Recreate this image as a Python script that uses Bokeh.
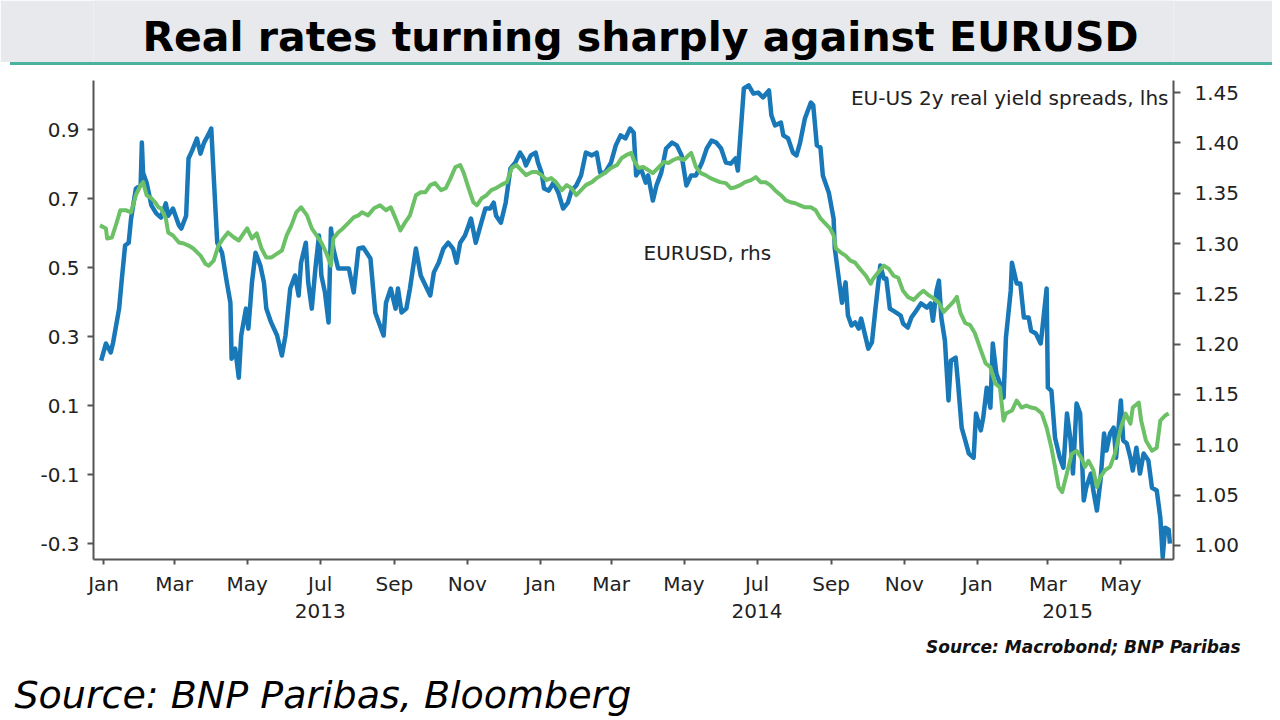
import numpy as np
import pandas as pd
from bokeh.plotting import figure
from bokeh.models import (Range1d, LinearAxis, DatetimeAxis, FixedTicker, PrintfTickFormatter,
                          DatetimeTickFormatter, ColumnDataSource, Label, Title, Div)
from bokeh.layouts import column
from bokeh.embed import file_html
from bokeh.resources import INLINE
from bokeh.core.properties import value

# ---------------- data ----------------
title_text = "Real rates turning sharply against EURUSD"
spread_label = "EU-US 2y real yield spreads, lhs"
eurusd_label = "EURUSD, rhs"
source_small = "Source: Macrobond; BNP Paribas"
source_big = "Source: BNP Paribas, Bloomberg"

start_date = "2013-01-01"   # day 0 of the day offsets below

# EU-US 2y real yield spread (lhs), days since 2013-01-01
spread_days = [
    -2, 2, 6, 8, 13, 15, 18, 21, 23, 27, 31, 32, 33, 36, 40, 44, 48, 52, 54, 58,
    63, 65, 69, 71, 74, 78, 81, 84, 88, 90, 92, 95, 99, 103, 106, 107, 110, 113, 115, 119,
    121, 124, 127, 131, 134, 136, 140, 145, 149, 152, 156, 160, 163, 165, 169, 171, 174, 177, 180, 182,
    185, 188, 190, 192, 196, 200, 205, 209, 213,
    217, 223, 227, 230, 234, 236, 240, 244, 246, 249, 253, 256, 261, 265, 269, 273, 276, 280, 284, 288,
    292, 295, 298, 302, 305, 307, 311, 315, 319, 323, 326, 328, 332, 336, 340, 344, 348, 351, 353, 357,
    361, 363, 366, 368, 372, 376, 380, 384, 388, 391, 395, 399, 403, 408, 412, 415, 419, 424, 428, 432,
    436, 440,
    443, 445, 449, 453, 455, 459, 462, 466, 470, 475, 479, 483, 487, 491, 495, 500, 504, 508, 512, 516,
    520, 524, 528, 530, 535, 539, 543, 547, 551, 556, 558, 561, 566, 568, 572, 576, 579, 582, 586, 591,
    593, 596, 599, 601, 606, 610, 611, 614, 617, 620, 622, 625, 628, 631, 633, 637, 639, 642, 645, 649,
    652, 654, 657, 662, 666,
    668, 672, 675, 679, 683, 688, 691, 693, 696, 698, 700, 703, 706, 708, 712, 714, 717, 720, 723, 727,
    729, 733, 735, 738, 741, 743, 746, 749, 752, 754, 758, 759, 763, 766, 769, 773, 775, 779, 783, 784,
    788, 789, 792, 795, 799, 802, 805, 808, 810, 813, 816, 819, 821, 825, 827, 830, 833, 836, 838, 841,
    844, 846, 850, 852, 855, 858, 860, 863, 866, 869, 873, 876, 880, 883, 885, 887, 890, 891,
]
spread_values = [
    0.23, 0.28, 0.254, 0.283, 0.381, 0.457, 0.564, 0.572, 0.642, 0.729, 0.738, 0.862, 0.775, 0.746, 0.68,
    0.657, 0.645, 0.686, 0.65, 0.671, 0.622, 0.613, 0.65, 0.816, 0.839, 0.874, 0.83, 0.862, 0.888, 0.903,
    0.767, 0.572, 0.543, 0.457, 0.398, 0.236, 0.265, 0.181, 0.303, 0.381, 0.323, 0.457, 0.543, 0.506, 0.457,
    0.381, 0.341, 0.303, 0.245, 0.303, 0.439, 0.477, 0.419, 0.514, 0.572, 0.457, 0.381, 0.497, 0.593, 0.477,
    0.428, 0.341, 0.613, 0.555, 0.497, 0.497, 0.497, 0.428, 0.555,
    0.558, 0.526, 0.370, 0.341, 0.303, 0.398, 0.439, 0.381, 0.439, 0.370, 0.381, 0.439, 0.555, 0.477, 0.448,
    0.419, 0.486, 0.514, 0.555, 0.572, 0.555, 0.514, 0.572, 0.593, 0.622, 0.642, 0.572, 0.622, 0.671, 0.671,
    0.688, 0.65, 0.63, 0.688, 0.787, 0.804, 0.833, 0.816, 0.796, 0.825, 0.833, 0.804, 0.775, 0.729, 0.723,
    0.746, 0.717, 0.671, 0.688, 0.723, 0.738, 0.767, 0.833, 0.825, 0.833, 0.775, 0.775, 0.804, 0.854, 0.883,
    0.874, 0.903,
    0.891, 0.767, 0.787, 0.746, 0.767, 0.694, 0.738, 0.775, 0.845, 0.862, 0.854, 0.825, 0.738, 0.767, 0.767,
    0.804, 0.845, 0.868, 0.862, 0.845, 0.804, 0.801, 0.816, 0.781, 1.019, 1.028, 1.004, 1.007, 0.993, 1.013,
    0.941, 0.912, 0.920, 0.883, 0.874, 0.833, 0.825, 0.862, 0.932, 0.978, 0.970, 0.854, 0.848, 0.767, 0.717,
    0.642, 0.555, 0.477, 0.398, 0.457, 0.361, 0.332, 0.341, 0.323, 0.352, 0.294, 0.265, 0.283, 0.381, 0.506,
    0.468, 0.468, 0.381, 0.370, 0.361,
    0.338, 0.326, 0.355, 0.375, 0.396, 0.384, 0.396, 0.346, 0.433, 0.462, 0.355, 0.288, 0.115, 0.230, 0.239,
    0.164, 0.036, -0.001, -0.039, -0.051, 0.077, 0.028, 0.065, 0.152, 0.094, 0.280, 0.193, 0.164, 0.123, 0.297,
    0.433, 0.514, 0.454, 0.454, 0.355, 0.355, 0.317, 0.309, 0.280, 0.309, 0.439, 0.152, 0.143, 0.007, -0.051,
    -0.080, 0.077, -0.001, -0.097, 0.106, 0.077, -0.175, -0.138, -0.097, -0.146, -0.204, -0.117, 0.019, -0.030, 0.019,
    0.036, -0.051, 0.115, -0.001, -0.010, -0.051, -0.088, -0.022, -0.097, -0.039, -0.059, -0.138, -0.146, -0.225, -0.34,
    -0.254, -0.26, -0.30,
]

# EURUSD (rhs), days since 2013-01-01
eurusd_days = [
    -3, 2, 3, 7, 11, 14, 19, 23, 27, 31, 33, 36, 40, 43, 46, 48, 52, 54, 58, 63,
    67, 71, 75, 81, 85, 88, 92, 96, 100, 104, 109, 113, 117, 120, 124, 128, 132, 136, 140, 145,
    149, 153, 157, 161, 165, 170, 174, 178, 182, 186, 190, 192, 196, 200, 205, 209, 213, 216,
    221, 226, 231, 236, 240, 244, 248, 252, 256, 261, 265, 269, 273, 277, 282, 286, 290, 294, 298, 301,
    305, 309, 312, 316, 320, 324, 328, 332, 337, 341, 345, 349, 353, 358, 362, 366, 370, 374, 378, 383,
    387, 391, 395, 399, 403, 408, 412, 416, 420, 424, 429, 433, 437, 441,
    443, 447, 451, 455, 459, 464, 468, 472, 476, 480, 485, 489, 491, 495, 499, 503, 507, 511, 515, 520,
    524, 528, 532, 536, 541, 545, 549, 553, 557, 561, 566, 570, 574, 578, 582, 586, 591, 595, 599, 603,
    607, 610, 612, 616, 620, 624, 628, 632, 637, 641, 643, 647, 652, 656, 660, 664,
    668, 672, 677, 681, 685, 689, 693, 698, 702, 706, 710, 713, 716, 720, 724, 728, 733, 737, 741, 745,
    749, 752, 754, 759, 763, 767, 771, 775, 779, 784, 788, 792, 795, 798, 801, 805, 809, 813, 817, 820,
    823, 827, 830, 833, 837, 841, 845, 850, 854, 858, 860, 865, 867, 871, 876, 880, 883, 887, 890,
]
eurusd_values = [
    1.318, 1.315, 1.305, 1.306, 1.321, 1.333, 1.333, 1.331, 1.348, 1.358, 1.361, 1.348, 1.345, 1.341, 1.336,
    1.335, 1.325, 1.311, 1.308, 1.301, 1.300, 1.298, 1.295, 1.288, 1.280, 1.278, 1.283, 1.298, 1.305, 1.311,
    1.306, 1.303, 1.310, 1.315, 1.305, 1.310, 1.295, 1.286, 1.286, 1.290, 1.293, 1.308, 1.318, 1.331, 1.336,
    1.328, 1.315, 1.308, 1.301, 1.291, 1.278, 1.305, 1.311, 1.315, 1.321, 1.326, 1.328, 1.331,
    1.328, 1.335, 1.338, 1.333, 1.336, 1.325, 1.313, 1.321, 1.328, 1.348, 1.351, 1.351, 1.358, 1.360, 1.353,
    1.355, 1.365, 1.376, 1.378, 1.370, 1.355, 1.341, 1.338, 1.345, 1.348, 1.353, 1.355, 1.358, 1.361, 1.375,
    1.378, 1.373, 1.368, 1.371, 1.371, 1.368, 1.363, 1.365, 1.361, 1.353, 1.358, 1.355, 1.348, 1.353, 1.358,
    1.361, 1.365, 1.368, 1.371, 1.375, 1.378, 1.385, 1.388, 1.390,
    1.383, 1.375, 1.376, 1.373, 1.370, 1.376, 1.381, 1.380, 1.383, 1.385, 1.383, 1.388, 1.390, 1.376, 1.370,
    1.368, 1.365, 1.363, 1.361, 1.360, 1.355, 1.356, 1.358, 1.361, 1.363, 1.366, 1.361, 1.361, 1.358, 1.353,
    1.348, 1.343, 1.341, 1.340, 1.338, 1.336, 1.336, 1.333, 1.325, 1.320, 1.315, 1.308, 1.295, 1.291, 1.288,
    1.283, 1.281, 1.275, 1.268, 1.260, 1.265, 1.271, 1.278, 1.275, 1.268, 1.266,
    1.253, 1.247, 1.244, 1.249, 1.253, 1.249, 1.246, 1.241, 1.232, 1.237, 1.242, 1.247, 1.231, 1.221, 1.219,
    1.211, 1.194, 1.181, 1.177, 1.161, 1.157, 1.124, 1.131, 1.134, 1.144, 1.137, 1.139, 1.137, 1.136, 1.131,
    1.117, 1.097, 1.078, 1.058, 1.053, 1.072, 1.091, 1.094, 1.087, 1.078, 1.084, 1.075, 1.058, 1.068, 1.075,
    1.078, 1.091, 1.117, 1.131, 1.121, 1.137, 1.142, 1.124, 1.104, 1.094, 1.097, 1.124, 1.129, 1.131,
]

lhs_ticks = [-0.3, -0.1, 0.1, 0.3, 0.5, 0.7, 0.9]
rhs_ticks = [1.00, 1.05, 1.10, 1.15, 1.20, 1.25, 1.30, 1.35, 1.40, 1.45]
month_tick_dates = list(pd.date_range("2013-01-01", "2015-05-01", freq="2MS"))
year_label_dates = [pd.Timestamp("2013-07-01"), pd.Timestamp("2014-07-01"),
                    pd.Timestamp("2015-01-01") + (pd.Timestamp("2015-06-01") - pd.Timestamp("2015-01-01")) / 2]

lhs_range = (-0.346, 1.042)
rhs_range = (0.986, 1.462)
x_range_days = (-8.4, 894.0)

assert len(spread_days) == len(spread_values), (len(spread_days), len(spread_values))
assert len(eurusd_days) == len(eurusd_values), (len(eurusd_days), len(eurusd_values))

# ---------------- layout / styling ----------------
W = 1272
BAND_H, RULE_H, MAIN_H = 62, 3, 652
FRAME_L, FRAME_R, FRAME_T, FRAME_B = 93, 1173, 80, 559   # page pixels
FONT = "DejaVu Sans"
BLUE = "#1878b8"
GREEN = "#6cc066"
AXIS = "#555555"
TXT = "#222222"
BAND = "#e8e9ed"
RULE = "#4ab3a0"

base = pd.Timestamp(start_date)


def to_dates(days):
    return base + pd.to_timedelta(np.asarray(days, dtype=float), unit="D")


def to_ms(ts):
    return ts.value / 1e6


# ---------------- title band ----------------
top = figure(width=W, height=BAND_H, x_range=Range1d(FRAME_L, FRAME_R), y_range=Range1d(BAND_H, 0),
             toolbar_location=None, output_backend="svg", x_axis_type=None, y_axis_type=None,
             min_border=0, min_border_left=FRAME_L, min_border_right=W - FRAME_R,
             min_border_top=0, min_border_bottom=0,
             outline_line_color=None, border_fill_color=BAND, background_fill_color=BAND,
             title_location=None)
top.text(x=[640], y=[36], text=[title_text], text_font=value(FONT), text_font_style="bold",
         text_font_size="41px", text_align="center", text_baseline="middle", text_color="#000000")

rule = Div(text="", width=W - 10, height=RULE_H, margin=(0, 0, 0, 10),
           styles={"background-color": RULE, "height": f"{RULE_H}px", "width": f"{W - 10}px"})

# ---------------- main chart ----------------
page_top = BAND_H + RULE_H
x0 = base + pd.Timedelta(days=x_range_days[0])
x1 = base + pd.Timedelta(days=x_range_days[1])
p = figure(width=W, height=MAIN_H, x_axis_type="datetime",
           x_range=Range1d(x0, x1), y_range=Range1d(*lhs_range),
           toolbar_location=None, output_backend="svg",
           min_border_left=FRAME_L, min_border_right=W - FRAME_R,
           min_border_top=FRAME_T - page_top, min_border_bottom=page_top + MAIN_H - FRAME_B,
           outline_line_color=None, title_location=None)
# "fx" = EURUSD axis; "px"/"py" = page-pixel ranges for text placement
p.extra_y_ranges = {"fx": Range1d(*rhs_range), "py": Range1d(FRAME_B, FRAME_T)}
p.extra_x_ranges = {"px": Range1d(FRAME_L, FRAME_R)}
p.grid.visible = False


def style_axis(ax, tick_out, standoff):
    ax.axis_line_color = AXIS
    ax.axis_line_width = 2
    ax.major_tick_line_color = AXIS
    ax.major_tick_line_width = 2
    ax.major_tick_out = tick_out
    ax.major_tick_in = 0
    ax.minor_tick_line_color = None
    ax.major_label_standoff = standoff
    ax.major_label_text_font = FONT
    ax.major_label_text_font_size = "20px"
    ax.major_label_text_color = TXT


yl = p.yaxis[0]
yl.ticker = FixedTicker(ticks=lhs_ticks)
yl.formatter = PrintfTickFormatter(format="%.1f")
style_axis(yl, 6, 8)

yr = LinearAxis(y_range_name="fx", ticker=FixedTicker(ticks=rhs_ticks),
                formatter=PrintfTickFormatter(format="%.2f"))
style_axis(yr, 7, 14)
p.add_layout(yr, "right")

xb = p.xaxis[0]
xb.ticker = FixedTicker(ticks=[to_ms(t) for t in month_tick_dates], minor_ticks=[])
fmt_b = "%b"
xb.formatter = DatetimeTickFormatter(microseconds=fmt_b, milliseconds=fmt_b, seconds=fmt_b, minsec=fmt_b,
                                     minutes=fmt_b, hourmin=fmt_b, hours=fmt_b, days=fmt_b,
                                     months=fmt_b, years=fmt_b)
style_axis(xb, 5, 7)

fmt_y = "%Y"
xy = DatetimeAxis(ticker=FixedTicker(ticks=[to_ms(t) for t in year_label_dates], minor_ticks=[]),
                  formatter=DatetimeTickFormatter(microseconds=fmt_y, milliseconds=fmt_y, seconds=fmt_y,
                                                  minsec=fmt_y, minutes=fmt_y, hourmin=fmt_y, hours=fmt_y,
                                                  days=fmt_y, months=fmt_y, years=fmt_y))
style_axis(xy, 0, 5)
xy.axis_line_color = None
xy.major_tick_line_color = None
p.add_layout(xy, "below")

spread_src = ColumnDataSource(dict(date=to_dates(spread_days), v=spread_values))
eurusd_src = ColumnDataSource(dict(date=to_dates(eurusd_days), v=eurusd_values))

p.line(x="date", y="v", source=spread_src, line_color=BLUE, line_width=4.5, line_join="round")
p.line(x="date", y="v", source=eurusd_src, line_color=GREEN, line_width=4, line_join="round",
       y_range_name="fx")

p.add_layout(Label(x=1168, y=97, x_range_name="px", y_range_name="py", text=spread_label,
                   text_font=FONT, text_font_size="20px", text_color=TXT,
                   text_align="right", text_baseline="middle"))
p.add_layout(Label(x=643, y=252, x_range_name="px", y_range_name="py", text=eurusd_label,
                   text_font=FONT, text_font_size="20px", text_color=TXT,
                   text_align="left", text_baseline="middle"))

# sources, as titles in the bottom panel
p.add_layout(Title(text=source_small, align="right", offset=-67, standoff=28,
                   text_font=FONT, text_font_style="bold italic", text_font_size="17px",
                   text_color="#111111"), "below")
p.add_layout(Title(text=source_big, align="left", offset=-79, standoff=0,
                   text_font=FONT, text_font_style="italic", text_font_size="38px",
                   text_color="#000000"), "below")

layout = column(top, rule, p, spacing=0)
open("out.html", "w").write(file_html(layout, INLINE))
